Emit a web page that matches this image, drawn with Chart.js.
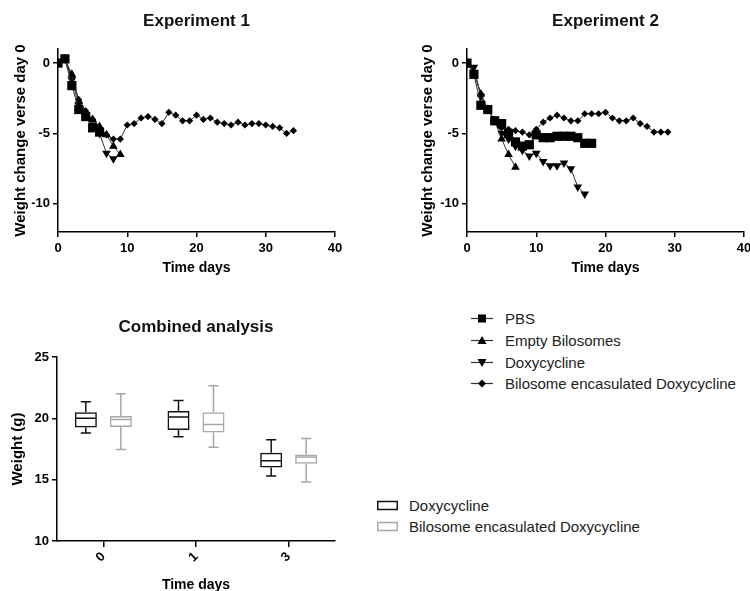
<!DOCTYPE html>
<html>
<head>
<meta charset="utf-8">
<script src="https://cdn.jsdelivr.net/npm/chart.js@4.4.1/dist/chart.umd.min.js"></script>
<style>
  body { margin: 0; width: 750px; height: 591px; position: relative; overflow: hidden; background: #fff; font-family: "Liberation Sans", Arial, sans-serif; }
  canvas { position: absolute; }
  .row { position: absolute; height: 17px; line-height: 17px; font-size: 15px; color: #222; white-space: nowrap; }
  .row svg { position: absolute; top: 0; }
</style>
</head>
<body>
<canvas id="exp1" width="350" height="290" style="left:0;top:0"></canvas>
<canvas id="exp2" width="360" height="290" style="left:400px;top:0"></canvas>
<canvas id="combined" width="370" height="310" style="left:0;top:300px"></canvas>
<div id="lineLegend"></div>
<div id="boxLegend"></div>

<script>
'use strict'

  ////////////////////////////////
 // data //
////////////////////////////////

const seriesNames = [ 'PBS', 'Empty Bilosomes', 'Doxycycline', 'Bilosome encasulated Doxycycline' ];

// Experiment 1
const exp1PbsDays   = [ 0, 1, 2, 3, 4, 5, 6 ];
const exp1Pbs       = [ 0, 0.3, -1.6, -3.3, -3.8, -4.6, -4.9 ];
const exp1EmptyDays = [ 0, 1, 2, 3, 4, 5, 6, 7, 8, 9 ];
const exp1Empty     = [ 0, 0.3, -0.8, -2.7, -3.5, -4.0, -4.5, -5.1, -5.9, -6.5 ];
const exp1DoxyDays  = [ 0, 1, 2, 3, 4, 5, 6, 7, 8 ];
const exp1Doxy      = [ 0, 0.3, -1.2, -3.0, -3.7, -4.4, -5.0, -6.4, -6.8 ];
const exp1BiloDays  = [ 0, 1, 2, 3, 4, 5, 6, 7, 8, 9, 10, 11, 12, 13, 14, 15, 16, 17,
                        18, 19, 20, 21, 22, 23, 24, 25, 26, 27, 28, 29, 30, 31, 32, 33, 34 ];
const exp1Bilo      = [ 0, 0.3, -1.0, -2.6, -3.4, -4.0, -4.6, -5.1, -5.4, -5.4,
                        -4.4, -4.3, -3.9, -3.8, -4.0, -4.3, -3.5, -3.7, -4.1, -4.1,
                        -3.7, -4.0, -3.9, -4.2, -4.3, -4.4, -4.2, -4.4, -4.3, -4.3,
                        -4.4, -4.5, -4.6, -5.0, -4.8 ];

// Experiment 2
const exp2PbsDays   = [ 0, 1, 2, 3, 4, 5, 6, 7, 8, 9, 10, 11, 12, 13, 14, 15, 16, 17, 18 ];
const exp2Pbs       = [ 0, -0.8, -3.0, -3.3, -4.1, -4.3, -5.0, -5.6, -5.9, -5.8,
                        -5.1, -5.3, -5.3, -5.2, -5.2, -5.2, -5.3, -5.7, -5.7 ];
const exp2EmptyDays = [ 0, 1, 2, 3, 4, 5, 6, 7 ];
const exp2Empty     = [ 0, -0.7, -2.2, -3.3, -4.1, -5.4, -6.5, -7.4 ];
const exp2DoxyDays  = [ 0, 1, 2, 3, 4, 5, 6, 7, 8, 9, 10, 11, 12, 13, 14, 15, 16, 17 ];
const exp2Doxy      = [ 0, -0.3, -2.4, -3.3, -4.1, -5.0, -5.4, -5.9, -6.2, -6.6,
                        -6.4, -7.0, -7.3, -7.3, -7.1, -7.5, -8.8, -9.3 ];
const exp2BiloDays  = [ 0, 1, 2, 3, 4, 5, 6, 7, 8, 9, 10, 11, 12, 13, 14, 15, 16, 17,
                        18, 19, 20, 21, 22, 23, 24, 25, 26, 27, 28, 29 ];
const exp2Bilo      = [ 0, -0.6, -2.2, -3.3, -4.0, -4.6, -4.7, -4.8, -4.9, -5.1,
                        -4.7, -4.2, -3.9, -3.7, -3.9, -4.1, -4.1, -3.6, -3.6, -3.6,
                        -3.5, -3.9, -4.1, -4.1, -3.9, -4.3, -4.5, -4.9, -4.9, -4.9 ];

const dayTicks    = [ 0, 10, 20, 30, 40 ];
const changeTicks = [ -10, -5, 0 ];

// Combined analysis (box plots)
const boxDays  = [ '0', '1', '3' ];
const boxNames = [ 'Doxycycline', 'Bilosome encasulated Doxycycline' ];
const doxyMin  = [ 18.8, 18.5, 15.3 ];
const doxyQ1   = [ 19.25, 19.05, 16.0 ];
const doxyMed  = [ 20.0, 20.1, 16.55 ];
const doxyQ3   = [ 20.5, 20.6, 17.2 ];
const doxyMax  = [ 21.35, 21.45, 18.25 ];
const biloMin  = [ 17.45, 17.65, 14.8 ];
const biloQ1   = [ 19.3, 18.85, 16.3 ];
const biloMed  = [ 19.9, 19.5, 16.85 ];
const biloQ3   = [ 20.2, 20.5, 17.05 ];
const biloMax  = [ 22.0, 22.65, 18.35 ];

  /////////////////////
 // common settings //
/////////////////////

Chart.defaults.font.family = '"Liberation Sans", Arial, sans-serif';
Chart.defaults.color = '#000';
Chart.defaults.animation = false;

const boldFont = size => ({ size: size, weight: 'bold' });

const markers = [
  { pointStyle: 'rect',     rotation: 0,   pointRadius: 6.5 },
  { pointStyle: 'triangle', rotation: 0,   pointRadius: 5 },
  { pointStyle: 'triangle', rotation: 180, pointRadius: 5 },
  { pointStyle: 'rectRot',  rotation: 0,   pointRadius: 3.6 }
];

const toPoints = ( days, values ) => days.map(( d, i ) => ({ x: d, y: values[i] }));

/**
 * one of the two weight change charts
 */
const weightChart = ( id, title, allDays, allValues, yAxisWidth, yTitlePad ) => {

  const datasets = allValues.map(( values, i ) => ({
    label: seriesNames[i],
    data: toPoints( allDays[i], values ),
    borderColor: '#333',
    borderWidth: 1,
    backgroundColor: '#000',
    pointBorderColor: '#000',
    pointBorderWidth: 0,
    pointStyle: markers[i].pointStyle,
    rotation: markers[i].rotation,
    pointRadius: markers[i].pointRadius,
    tension: 0
  }));

  return new Chart( document.getElementById( id ), {
    type: 'line',
    data: { datasets },
    options: {
      responsive: false,
      layout: { padding: { top: 0, right: id === 'exp1' ? 15 : 16, bottom: 0, left: 0 } },
      plugins: {
        legend: { display: false },
        tooltip: { enabled: false },
        title: {
          display: true, text: title, fullSize: false,
          font: boldFont( 17 ), color: '#111',
          padding: { top: 11.3, bottom: 17.3 }
        }
      },
      scales: {
        x: {
          type: 'linear', min: 0, max: 40,
          afterBuildTicks: axis => { axis.ticks = dayTicks.map( v => ({ value: v }) ); },
          afterFit: axis => { axis.height = 58; },
          grid: { drawOnChartArea: false, color: '#000', tickLength: 5, lineWidth: 1.5 },
          border: { color: '#000', width: 1.5 },
          ticks: { font: boldFont( 13 ), padding: 4, maxRotation: 0 },
          title: { display: true, text: 'Time days', font: boldFont( 14 ), padding: { top: 0, bottom: 13.6 } }
        },
        y: {
          type: 'linear', min: -12, max: 1,
          afterBuildTicks: axis => { axis.ticks = changeTicks.map( v => ({ value: v }) ); },
          afterFit: axis => { axis.width = yAxisWidth; },
          grid: { drawOnChartArea: false, color: '#000', tickLength: 5, lineWidth: 1.5 },
          border: { color: '#000', width: 1.5 },
          ticks: { font: boldFont( 13 ), padding: 3 },
          title: { display: true, text: 'Weight change verse day 0', font: boldFont( 15 ), padding: { top: yTitlePad, bottom: 0 } }
        }
      }
    }
  });
}

weightChart( 'exp1', 'Experiment 1',
  [ exp1PbsDays, exp1EmptyDays, exp1DoxyDays, exp1BiloDays ],
  [ exp1Pbs, exp1Empty, exp1Doxy, exp1Bilo ], 58, 12 );

weightChart( 'exp2', 'Experiment 2',
  [ exp2PbsDays, exp2EmptyDays, exp2DoxyDays, exp2BiloDays ],
  [ exp2Pbs, exp2Empty, exp2Doxy, exp2Bilo ], 67, 19 );

  ///////////////////////////////////////////////
 // box plot: floating bars + whiskers/median //
///////////////////////////////////////////////

const boxWhiskers = {
  id: 'boxWhiskers',
  afterDatasetsDraw( chart ) {
    const ctx = chart.ctx;
    const yScale = chart.scales.y;

    chart.data.datasets.forEach(( ds, i ) => {
      chart.getDatasetMeta( i ).data.forEach(( bar, j ) => {
        const left = bar.x - bar.width / 2 + 0.75;
        const right = bar.x + bar.width / 2 - 0.75;
        const cap = bar.width * 0.23;
        const yMin = yScale.getPixelForValue( ds.stats.min[j] );
        const yQ1  = yScale.getPixelForValue( ds.stats.q1[j] );
        const yMed = yScale.getPixelForValue( ds.stats.med[j] );
        const yQ3  = yScale.getPixelForValue( ds.stats.q3[j] );
        const yMax = yScale.getPixelForValue( ds.stats.max[j] );

        ctx.save();
        ctx.strokeStyle = ds.borderColor;
        ctx.lineWidth = 1.5;
        ctx.beginPath();
        ctx.moveTo( left, yMed );  ctx.lineTo( right, yMed );
        ctx.moveTo( bar.x, yQ3 );  ctx.lineTo( bar.x, yMax );
        ctx.moveTo( bar.x - cap, yMax ); ctx.lineTo( bar.x + cap, yMax );
        ctx.moveTo( bar.x, yQ1 );  ctx.lineTo( bar.x, yMin );
        ctx.moveTo( bar.x - cap, yMin ); ctx.lineTo( bar.x + cap, yMin );
        ctx.stroke();
        ctx.restore();
      });
    });
  }
};

const boxColors = [ '#111', '#a8a8a8' ];

const boxSets = [
  { min: doxyMin, q1: doxyQ1, med: doxyMed, q3: doxyQ3, max: doxyMax },
  { min: biloMin, q1: biloQ1, med: biloMed, q3: biloQ3, max: biloMax }
];

new Chart( document.getElementById( 'combined' ), {
  type: 'bar',
  data: {
    labels: boxDays,
    datasets: boxSets.map(( s, i ) => ({
      label: boxNames[i],
      data: s.q1.map(( q, j ) => [ q, s.q3[j] ]),
      stats: s,
      backgroundColor: 'rgba(255,255,255,0)',
      borderColor: boxColors[i],
      borderWidth: 1.5,
      borderSkipped: false,
      barPercentage: 0.63,
      categoryPercentage: 0.755
    }))
  },
  options: {
    responsive: false,
    layout: { padding: { top: 0, right: 35, bottom: 0, left: 0 } },
    plugins: {
      legend: { display: false },
      tooltip: { enabled: false },
      title: {
        display: true, text: 'Combined analysis', fullSize: false,
        font: boldFont( 17 ), color: '#111',
        padding: { top: 17.3, bottom: 19.3 }
      }
    },
    scales: {
      x: {
        type: 'category', offset: true,
        afterFit: axis => { axis.height = 69; },
        grid: { drawOnChartArea: false, offset: false, color: '#000', tickLength: 6, lineWidth: 1.5 },
        border: { color: '#000', width: 1.5 },
        ticks: { font: boldFont( 13 ), minRotation: 45, maxRotation: 45, padding: 2 },
        title: { display: true, text: 'Time days', font: boldFont( 14 ), padding: { top: 0, bottom: 16.6 } }
      },
      y: {
        type: 'linear', min: 10, max: 25,
        afterFit: axis => { axis.width = 57; },
        grid: { drawOnChartArea: false, color: '#000', tickLength: 5, lineWidth: 1.5 },
        border: { color: '#000', width: 1.5 },
        ticks: { font: boldFont( 13 ), stepSize: 5, padding: 3 },
        title: { display: true, text: 'Weight (g)', font: boldFont( 15 ), padding: { top: 9, bottom: 0 } }
      }
    }
  },
  plugins: [ boxWhiskers ]
});

  //////////////////////////////
 // legends below the charts //
//////////////////////////////

const markerSvg = i => {
  const shapes = [
    '<rect x="7" y="4.5" width="8" height="8" fill="#000"/>',
    '<polygon points="11,4 15.5,12 6.5,12" fill="#000"/>',
    '<polygon points="11,13 15.5,5 6.5,5" fill="#000"/>',
    '<polygon points="11,4.5 15,8.5 11,12.5 7,8.5" fill="#000"/>'
  ];
  return '<svg width="22" height="17"><line x1="0" y1="8.5" x2="22" y2="8.5" stroke="#333" stroke-width="1.2"/>' + shapes[i] + '</svg>';
};

const lineLegendY = [ 318, 340, 362, 383 ];
document.getElementById( 'lineLegend' ).innerHTML = seriesNames.map(( name, i ) =>
  '<div class="row" style="left:471px;top:' + ( lineLegendY[i] - 8.5 ) + 'px">' +
  markerSvg( i ) + '<span style="position:absolute;left:34px">' + name + '</span></div>'
).join( '' );

const boxLegendY = [ 505, 526 ];
document.getElementById( 'boxLegend' ).innerHTML = boxNames.map(( name, i ) =>
  '<div class="row" style="left:377px;top:' + ( boxLegendY[i] - 8.5 ) + 'px">' +
  '<svg width="22" height="17"><rect x="0.75" y="4.5" width="19.5" height="8" fill="none" stroke="' + boxColors[i] + '" stroke-width="1.5"/></svg>' +
  '<span style="position:absolute;left:32px">' + name + '</span></div>'
).join( '' );
</script>
</body>
</html>
